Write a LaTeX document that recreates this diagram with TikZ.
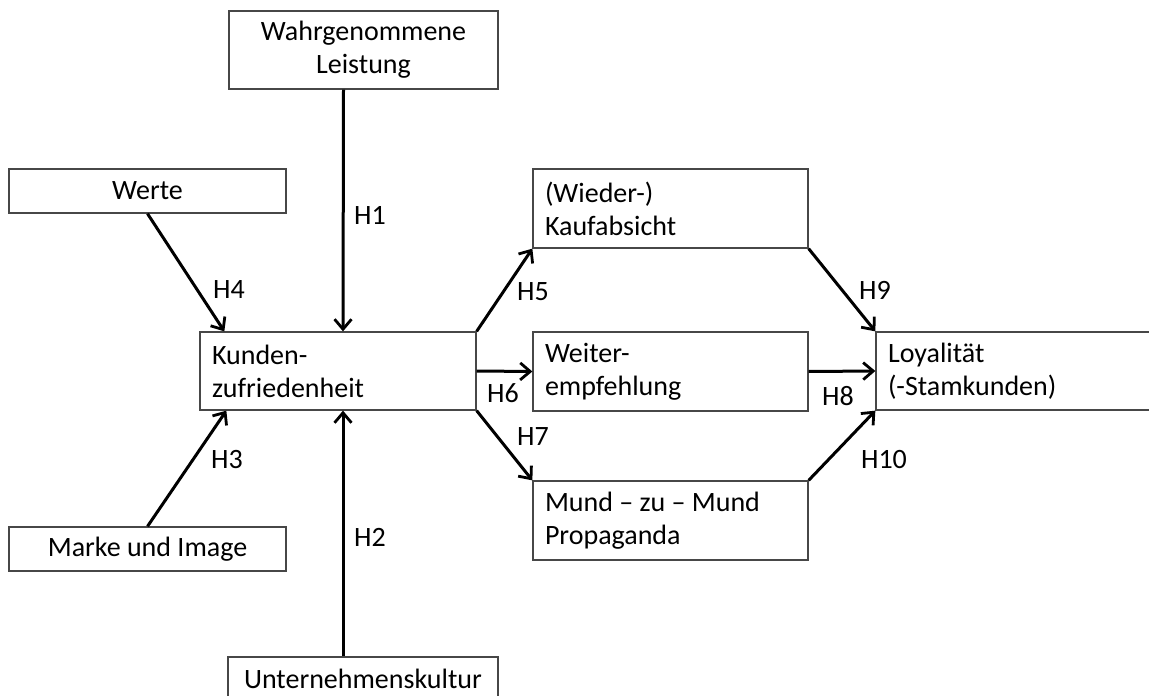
\documentclass[tikz,border=0pt]{standalone}
\usepackage{fontspec}
\setmainfont{Carlito}
\usetikzlibrary{arrows.meta}
\newcommand\dfont{\fontsize{28}{33}\selectfont}
\tikzset{
  x=1pt, y=-1pt,
  frame/.style={draw=black!72, line width=1.3pt, rectangle, inner ysep=0pt,
    inner xsep=12pt, font=\dfont},
  lbox/.style={frame, align=flush left},
  cbox/.style={frame, align=flush center},
  arr/.style={line width=3pt, -{Straight Barb[length=10pt,width=17pt,line width=2.8pt]}},
  hyp/.style={font=\dfont, inner sep=0pt}
}
\begin{document}
\begin{tikzpicture}
\useasboundingbox (0,0) rectangle (1149,696);
\clip (0,0) rectangle (1149,696);

% source constructs
\node[cbox, text width=245pt, minimum height=78pt] (wl) at (363.5,50) {Wahrgenommene\\Leistung};
\node[cbox, text width=253pt, minimum height=44pt] (werte) at (147.5,191) {Werte};
\node[cbox, text width=253pt, minimum height=44pt] (marke) at (147.5,549) {Marke und Image};
\node[frame, minimum width=270pt, minimum height=78pt] (uk) at (363,696) {};
\node[hyp, anchor=base] (ukt) at (363,688) {Unternehmenskultur};

% central construct
\node[lbox, text width=252pt, minimum height=78pt] (kz) at (338,371) {Kunden-\\zufriedenheit};

% consequences
\node[lbox, text width=251pt, minimum height=79pt] (kauf) at (670.5,208.5) {(Wieder-)\\Kaufabsicht};
\node[lbox, text width=251pt, minimum height=79pt] (weiter) at (670.5,371.5) {Weiter-\\empfehlung};
\node[lbox, text width=251pt, minimum height=79pt] (mund) at (670.5,520.5) {Mund – zu – Mund\\Propaganda};
\node[lbox, text width=252pt, minimum height=78pt] (loy) at (1014,371) {Loyalität\\(-Stamkunden)};

% hypotheses
\draw[arr] ([xshift=-20pt]wl.south) -- ([xshift=5pt]kz.north);
\draw[arr] ([xshift=-20pt]uk.north) -- ([xshift=5pt]kz.south);
\draw[arr] (werte.south) -- ([xshift=25pt]kz.north west);
\draw[arr] (marke.north) -- ([xshift=27pt]kz.south west);
\draw[arr] (kz.north east) -- (kauf.south west);
\draw[arr] (kz.east) -- (weiter.west);
\draw[arr] (kz.south east) -- (mund.north west);
\draw[arr] (kauf.south east) -- (loy.north west);
\draw[arr] (weiter.east) -- (loy.west);
\draw[arr] (mund.north east) -- (loy.south west);

\node[hyp] (h1) at (370,215) {H1};
\node[hyp] (h2) at (370,537) {H2};
\node[hyp] (h3) at (227,460) {H3};
\node[hyp] (h4) at (229,290) {H4};
\node[hyp] (h5) at (533,292) {H5};
\node[hyp] (h6) at (503,393) {H6};
\node[hyp] (h7) at (533,437) {H7};
\node[hyp] (h8) at (838,396) {H8};
\node[hyp] (h9) at (875,290) {H9};
\node[hyp] (h10) at (884,460) {H10};
\end{tikzpicture}
\end{document}
